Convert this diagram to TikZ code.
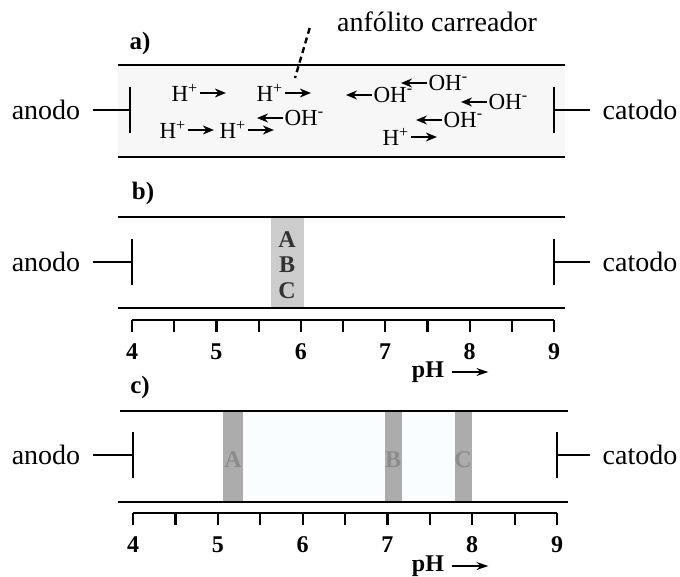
\documentclass[tikz,border=0pt]{standalone}
\usepackage{fontspec}
\setmainfont{Liberation Serif}
\usetikzlibrary{arrows.meta, positioning}

\begin{document}
\begin{tikzpicture}[x=0.5pt, y=-0.5pt,
          tube/.style={line width=1.1pt},
          elec/.style={line width=1.2pt},
          lbl/.style={font=\fontsize{14}{16}\selectfont, inner ysep=0pt, inner xsep=6pt},
          tag/.style={font=\bfseries\fontsize{12.5}{14}\selectfont, inner sep=0pt},
          num/.style={font=\bfseries\fontsize{12}{14}\selectfont, inner sep=0pt},
          ion/.style={font=\fontsize{11.5}{13}\selectfont, inner sep=0.6pt},
          ionarr/.style={-{Stealth[length=5.5pt, width=4.5pt]}, line width=0.8pt},
          pharr/.style={-{Stealth[length=6pt, width=4pt]}, line width=0.8pt},
          band/.style={fill=gray!40, draw=none},
          darkband/.style={fill=gray!65, draw=none},
          zone/.style={font=\bfseries\fontsize{12}{14}\selectfont, inner sep=0pt}]
          \useasboundingbox (0,0) rectangle (680,577);
          % a) tubo com anfólitos
          \fill[black!3] (118,65) rectangle (565,157);
          \draw[tube] (118,65) -- (565,65);
          \draw[tube] (118,157) -- (565,157);
          \node[tag] (taga) at (140,43) {a)};
          \node[lbl] (carrier) at (437,22) {anfólito carreador};
          \coordinate (tip) at (295,78);
          \draw[line width=1.2pt, dash pattern=on 3pt off 2pt] (carrier.west) ++(-15,6) -- (tip);
          \foreach \x/\y/\n in {170/93/h1, 255/93/h2, 158/130/h3, 218/130/h4, 381/137/h5}{
            \node[ion, anchor=west] (\n) at (\x,\y) {H\textsuperscript{+}};
            \draw[ionarr] (\n.east) -- ++(26,0);
          }
          \foreach \x/\y/\n in {372/95/o1, 427/83/o2, 487/102/o3, 283/118/o4, 442/120/o5}{
            \node[ion, anchor=west] (\n) at (\x,\y) {OH\textsuperscript{-}};
            \draw[ionarr] (\n.west) -- ++(-26,0);
          }
          % b) focalizacao inicial
          \fill[band] (271,217) rectangle (304,308);
          \draw[tube] (118,217) -- (565,217);
          \draw[tube] (118,308) -- (565,308);
          \node[tag] (tagb) at (143,193) {b)};
          \node[zone, black!80] (zA) at (287,240) {A};
          \node[zone, black!80] (zB) at (287,265) {B};
          \node[zone, black!80] (zC) at (287,291) {C};
          % c) zonas separadas
          \fill[cyan!2] (243,411) rectangle (455,502);
          \fill[darkband] (223,411) rectangle (243,502);
          \fill[darkband] (385,411) rectangle (402,502);
          \fill[darkband] (455,411) rectangle (472,502);
          \draw[tube] (120,411) -- (568,411);
          \draw[tube] (118,502) -- (568,502);
          \node[tag] (tagc) at (140,387) {c)};
          \node[zone, black!45] (cA) at (233,460) {A};
          \node[zone, black!45] (cB) at (393,460) {B};
          \node[zone, black!45] (cC) at (463,460) {C};
          % eletrodos
          \foreach \p/\y/\lx/\rx in {a/110/130/554, b/262/132/554, c/455/133/557}{
            \node[lbl] (an\p) at (46,\y) {anodo};
            \node[lbl] (ca\p) at (640,\y) {catodo};
            \coordinate (el\p) at (\lx,\y);
            \coordinate (er\p) at (\rx,\y);
            \draw[elec] (an\p) -- (el\p);
            \draw[elec] (er\p) -- (ca\p);
            \draw[elec] (el\p) ++(0,-23) -- ++(0,46);
            \draw[elec] (er\p) ++(0,-23) -- ++(0,46);
          }
          % escalas de pH
          \foreach \p/\ya/\xs/\xe/\yp in {b/320/132/554/372, c/513/133/557/566}{
            \draw[tube] (\xs,\ya) -- (\xe,\ya);
            \foreach \k in {0,...,10}
              \draw[tube] ({\xs+\k*(\xe-\xs)/10},\ya) -- ++(0,12);
            \foreach \v [count=\i from 0] in {4,...,9}
              \node[num] (n\p\v) at ({\xs+\i*(\xe-\xs)/5},{\ya+32}) {\v};
            \node[num] (ph\p) at (428,\yp) {pH};
            \draw[pharr] (ph\p.east) ++(8,0) -- ++(36,0);
          }
        \end{tikzpicture}
\end{document}
